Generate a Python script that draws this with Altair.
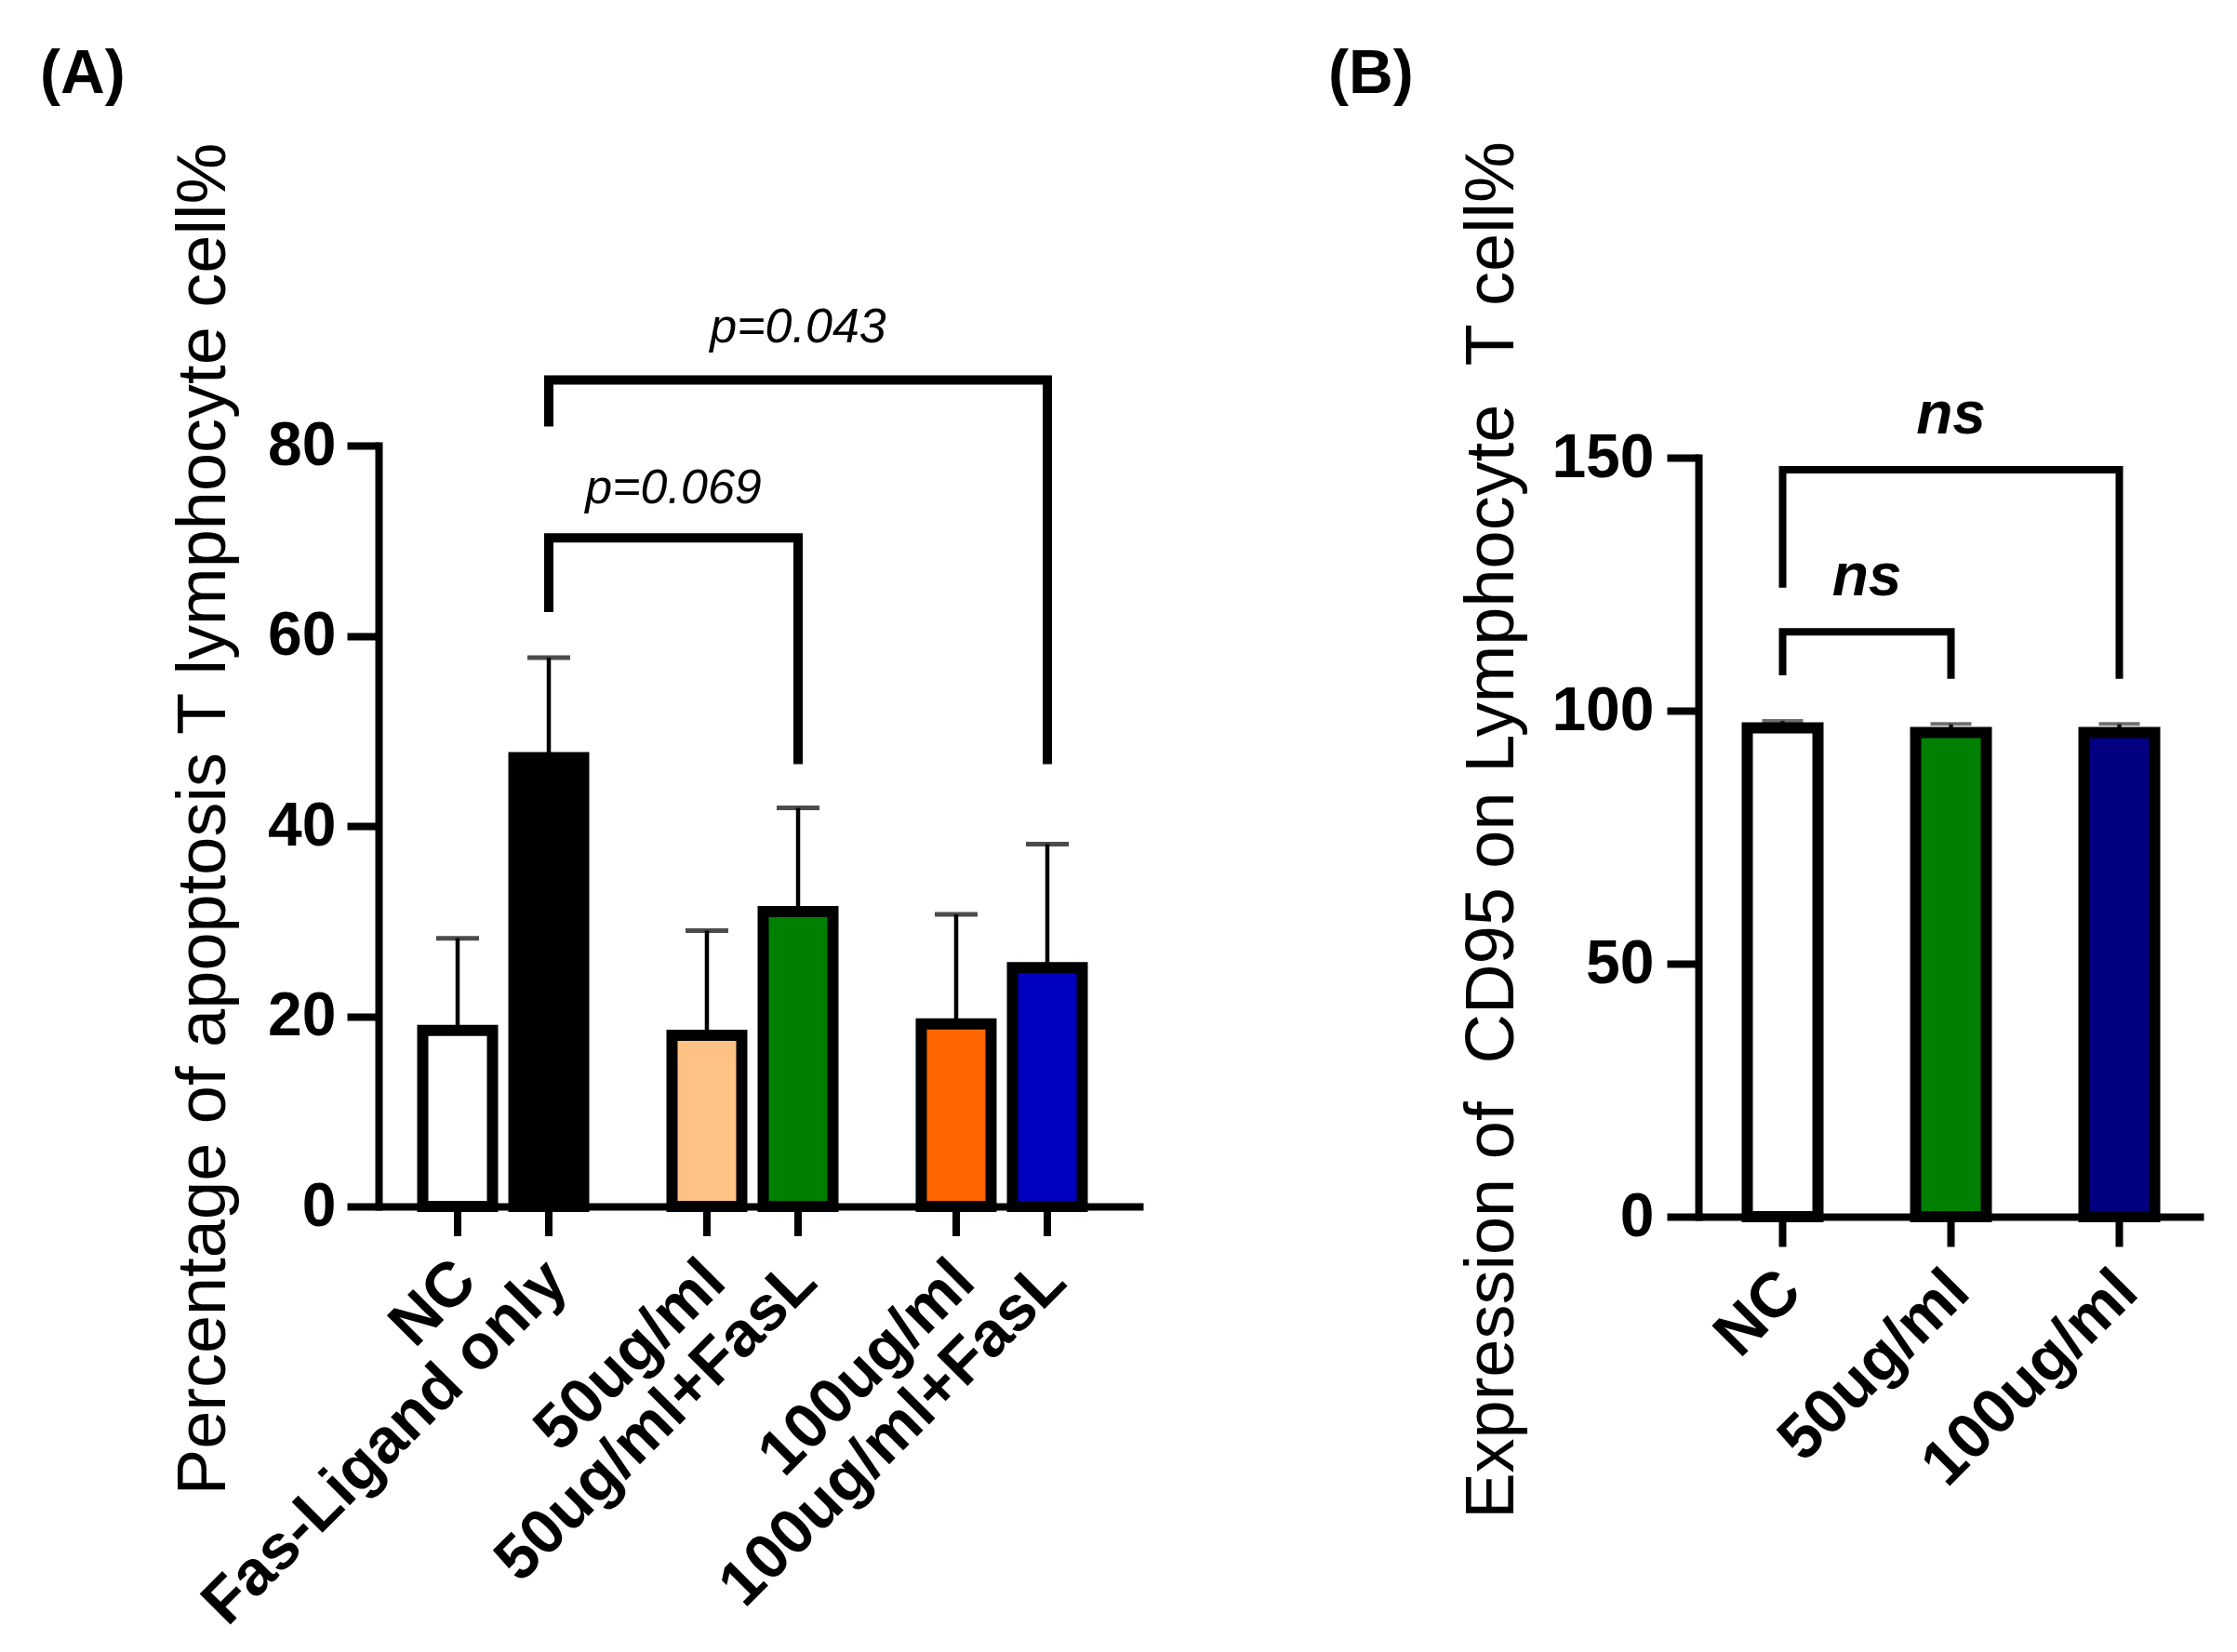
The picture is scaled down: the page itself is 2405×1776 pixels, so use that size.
import math
import altair as alt
import pandas as pd

FONT = "Liberation Sans, Arial, Helvetica, sans-serif"

# ---------------- Panel A data ----------------
a_labels = ["NC", "Fas-Ligand only", "50ug/ml", "50ug/ml+FasL", "100ug/ml", "100ug/ml+FasL"]
a_groups = ["none", "none", "50ug/ml", "50ug/ml", "100ug/ml", "100ug/ml"]
a_fasl = ["no", "yes", "no", "yes", "no", "yes"]
a_mean = [18.5, 47.2, 18.0, 31.0, 19.2, 25.1]
a_sd = [9.7, 10.5, 11.0, 10.9, 11.5, 13.0]
a_colors = ["#FFFFFF", "#000000", "#FFC285", "#008000", "#FF6600", "#0000C0"]
a_group_order = ["none", "50ug/ml", "100ug/ml"]
a_fasl_order = ["no", "yes"]
a_yticks = [0, 20, 40, 60, 80]
a_ytitle = "Percentage of apoptosis T lymphocyte cell%"

a_br_from = ["none", "none"]
a_br_to = ["50ug/ml", "100ug/ml"]
a_br_top = [70.3, 86.9]
a_br_left_end = [62.5, 82.0]
a_br_right_end = [46.5, 46.5]
a_br_text = ["p=0.069", "p=0.043"]
a_br_text_y = [75.5, 92.4]

# ---------------- Panel B data ----------------
b_labels = ["NC", "50ug/ml", "100ug/ml"]
b_mean = [96.6, 95.7, 95.7]
b_sd = [1.4, 1.7, 1.7]
b_colors = ["#FFFFFF", "#008000", "#000080"]
b_yticks = [0, 50, 100, 150]
b_ytitle = "Expression of \u00a0CD95 on Lymphocyte \u00a0T cell%"

b_br_from = ["NC", "NC"]
b_br_to = ["50ug/ml", "100ug/ml"]
b_br_top = [115.6, 147.6]
b_br_left_end = [107.0, 124.3]
b_br_right_end = [106.3, 106.3]
b_br_text = ["ns", "ns"]
b_br_text_y = [126.3, 158.3]

panel_labels = ["(A)", "(B)"]

# ---------------- layout (pixels) ----------------
H = 818                 # panel A plot height
A_W = 822               # panel A x-axis length
A_POUT = 0.0336
OFF_POUT = 0.367
FRAC_YES = (OFF_POUT + 1.5) / (2 + 2 * OFF_POUT)
B_X0, B_X1 = 1419, 1962
B_TOP, B_BOT = 13, 829
LAB_DY = 70

# ---------------- tables ----------------
dfa = pd.DataFrame({"label": a_labels, "group": a_groups, "fasl": a_fasl,
                    "mean": a_mean, "sd": a_sd, "color": a_colors})
dfa["upper"] = dfa["mean"] + dfa["sd"]
dfb = pd.DataFrame({"label": b_labels, "mean": b_mean, "sd": b_sd, "color": b_colors})
dfb["upper"] = dfb["mean"] + dfb["sd"]


def bracket_table(frm, to, top, le, re):
    rows = []
    for i in range(len(frm)):
        rows += [
            {"b": i, "k": 0, "node": frm[i], "v": le[i]},
            {"b": i, "k": 1, "node": frm[i], "v": top[i]},
            {"b": i, "k": 2, "node": to[i], "v": top[i]},
            {"b": i, "k": 3, "node": to[i], "v": re[i]},
        ]
    return pd.DataFrame(rows)


def midpoint(order, frm, to, frac):
    """band category and band position of the midpoint between two band positions"""
    total = (order.index(frm) + order.index(to)) / 2 + frac
    idx = min(int(math.floor(total)), len(order) - 1)
    return order[idx], total - idx


# ---------------- scales & axes ----------------
xa_scale = alt.Scale(domain=a_group_order, range=[0, A_W], paddingInner=0,
                     paddingOuter=A_POUT, align=0)
xoff_scale = alt.Scale(domain=a_fasl_order, paddingInner=0, paddingOuter=OFF_POUT)
ya_scale = alt.Scale(domain=[0, 80], range=[H, 0], nice=False)
xa_axis = alt.Axis(orient="bottom", offset=0, labels=False, ticks=False, grid=False,
                   domainColor="black", domainWidth=8, title=None)
ya_axis = alt.Axis(orient="left", offset=0, values=a_yticks, grid=False,
                   domainColor="black", domainWidth=8, domainCap="square",
                   tickColor="black", tickWidth=8, tickSize=34,
                   labelFont=FONT, labelFontSize=66, labelFontWeight="bold",
                   labelColor="black", labelPadding=12,
                   title=a_ytitle, titleFont=FONT, titleFontSize=74,
                   titleFontWeight="normal", titleColor="black", titleAngle=270,
                   titleX=-166, titleY=401, titleAlign="center",
                   titleBaseline="alphabetic")

xb_scale = alt.Scale(domain=b_labels, range=[B_X0, B_X1], paddingInner=0, paddingOuter=0)
yb_scale = alt.Scale(domain=[0, 150], range=[B_BOT, B_TOP], nice=False)
xb_axis = alt.Axis(orient="bottom", offset=B_BOT - H, labels=False, ticks=True,
                   tickColor="black", tickWidth=8, tickSize=32, grid=False,
                   domainColor="black", domainWidth=8, title=None)
yb_axis = alt.Axis(orient="left", offset=-B_X0, values=b_yticks, grid=False,
                   domainColor="black", domainWidth=8, domainCap="square",
                   tickColor="black", tickWidth=8, tickSize=34,
                   labelFont=FONT, labelFontSize=66, labelFontWeight="bold",
                   labelColor="black", labelPadding=14,
                   title=b_ytitle, titleFont=FONT, titleFontSize=74,
                   titleFontWeight="normal", titleColor="black", titleAngle=270,
                   titleX=-200, titleY=413, titleAlign="center",
                   titleBaseline="alphabetic")


def XA(field="group", bp=None):
    if bp is None:
        return alt.X(f"{field}:N", scale=xa_scale, axis=xa_axis, title=None)
    return alt.X(f"{field}:N", scale=xa_scale, axis=xa_axis, title=None, bandPosition=bp)


XOFF = alt.XOffset("fasl:N", scale=xoff_scale)


def YA(field):
    return alt.Y(f"{field}:Q", scale=ya_scale, axis=ya_axis)


def XB(field="label", bp=None):
    if bp is None:
        return alt.X(f"{field}:N", scale=xb_scale, axis=xb_axis, title=None)
    return alt.X(f"{field}:N", scale=xb_scale, axis=xb_axis, title=None, bandPosition=bp)


def YB(field):
    return alt.Y(f"{field}:Q", scale=yb_scale, axis=yb_axis)


# ---------------- Panel A layers ----------------
baseA = alt.Chart(dfa)
errA = baseA.mark_rule(strokeWidth=4.5, color="black").encode(
    x=XA(), xOffset=XOFF, y=YA("mean"), y2="upper:Q")
capA = baseA.mark_tick(size=46, thickness=5, color="black").encode(
    x=XA(), xOffset=XOFF, y=YA("upper"))
barsA = baseA.mark_bar(width=75, stroke="black", strokeWidth=12).encode(
    x=XA(), xOffset=XOFF, y=YA("mean"), fill=alt.Fill("color:N", scale=None))
ticksA = baseA.mark_rule(strokeWidth=8, color="black").encode(
    x=XA(), xOffset=XOFF, y=alt.value(H), y2=alt.value(H + 32))
labA = baseA.mark_text(angle=315, align="right", baseline="middle", font=FONT,
                       fontSize=68, fontWeight="bold", color="black",
                       dx=6.4, dy=6.4).encode(
    x=XA(), xOffset=XOFF, y=alt.value(H + LAB_DY), text="label:N")

brA = alt.Chart(bracket_table(a_br_from, a_br_to, a_br_top, a_br_left_end,
                              a_br_right_end)).mark_line(
    strokeWidth=10, color="black", strokeJoin="miter", strokeCap="butt").encode(
    x=XA("node", FRAC_YES), y=YA("v"), order="k:Q", detail="b:N")

brA_text = []
for i in range(len(a_br_text)):
    cat, bp = midpoint(a_group_order, a_br_from[i], a_br_to[i], FRAC_YES)
    d = pd.DataFrame({"at": [cat], "t": [a_br_text[i]], "y": [a_br_text_y[i]]})
    brA_text.append(alt.Chart(d).mark_text(font=FONT, fontSize=52, fontStyle="italic",
                                           align="center", baseline="middle",
                                           color="black").encode(
        x=XA("at", bp), y=YA("y"), text="t:N"))

panA = alt.Chart(pd.DataFrame({"t": [panel_labels[0]]})).mark_text(
    align="left", baseline="alphabetic", font=FONT, fontSize=66, fontWeight="bold",
    color="black").encode(x=alt.value(-364), y=alt.value(-379), text="t:N")

layerA = alt.layer(errA, capA, barsA, ticksA, labA, brA, *brA_text, panA)

# ---------------- Panel B layers ----------------
baseB = alt.Chart(dfb)
errB = baseB.mark_rule(strokeWidth=4.5, color="black").encode(
    x=XB(), y=YB("mean"), y2="upper:Q")
capB = baseB.mark_tick(size=44, thickness=4, color="#333333").encode(
    x=XB(), y=YB("upper"))
barsB = baseB.mark_bar(width=76, stroke="black", strokeWidth=12).encode(
    x=XB(), y=YB("mean"), fill=alt.Fill("color:N", scale=None))
labB = baseB.mark_text(angle=315, align="right", baseline="middle", font=FONT,
                       fontSize=68, fontWeight="bold", color="black",
                       dx=6.4, dy=6.4).encode(
    x=XB(), y=alt.value(B_BOT + LAB_DY), text="label:N")

brB = alt.Chart(bracket_table(b_br_from, b_br_to, b_br_top, b_br_left_end,
                              b_br_right_end)).mark_line(
    strokeWidth=8, color="black", strokeJoin="miter", strokeCap="butt").encode(
    x=XB("node", 0.5), y=YB("v"), order="k:Q", detail="b:N")

brB_text = []
for i in range(len(b_br_text)):
    cat, bp = midpoint(b_labels, b_br_from[i], b_br_to[i], 0.5)
    d = pd.DataFrame({"at": [cat], "t": [b_br_text[i]], "y": [b_br_text_y[i]]})
    brB_text.append(alt.Chart(d).mark_text(font=FONT, fontSize=64, fontStyle="italic",
                                           fontWeight="bold", align="center",
                                           baseline="middle", color="black").encode(
        x=XB("at", bp), y=YB("y"), text="t:N"))

panB = alt.Chart(pd.DataFrame({"t": [panel_labels[1]]})).mark_text(
    align="left", baseline="alphabetic", font=FONT, fontSize=66, fontWeight="bold",
    color="black").encode(x=alt.value(1021), y=alt.value(-379), text="t:N")

layerB = alt.layer(errB, capB, barsB, labB, brB, *brB_text, panB)

chart = alt.layer(layerA, layerB).resolve_scale(
    x="independent", y="independent"
).properties(
    width=1990, height=H,
    padding={"left": 399, "top": 471, "right": 0, "bottom": 470},
    autosize=alt.AutoSizeParams(type="none"),
    background="white",
).configure_view(stroke=None)

chart.save("out.html", embed_options={"renderer": "svg", "actions": False})
